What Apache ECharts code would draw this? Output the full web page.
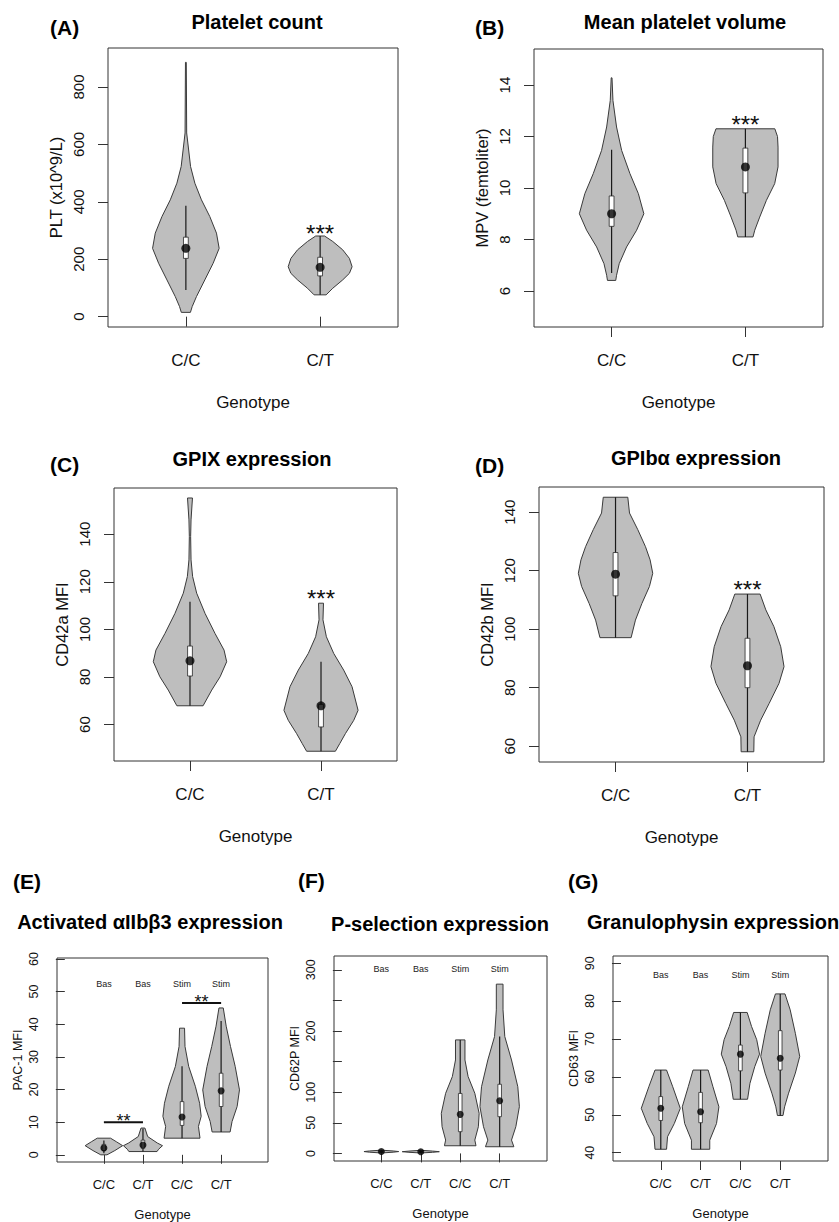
<!DOCTYPE html>
<html>
<head>
<meta charset="utf-8">
<script src="https://cdn.jsdelivr.net/npm/echarts@6/dist/echarts.min.js"></script>
<style>
html,body{margin:0;padding:0;background:#fff;}
#chart{width:839px;height:1222px;}
</style>
</head>
<body>
<div id="chart"></div>
<script>
// ---------------- DATA ----------------
const genotypes2 = ['C/C', 'C/T'];
const genotypes4 = ['C/C', 'C/T', 'C/C', 'C/T'];
const conditions4 = ['Bas', 'Bas', 'Stim', 'Stim'];

// outlines: [value, half-width in category units], top to bottom
// stats: [lower whisker, Q1, median, Q3, upper whisker]

// (A) Platelet count
const A_yTicks = [0, 200, 400, 600, 800];
const A_CC_outline = [[886,0.003],[640,0.006],[523,0.035],[465,0.067],[407,0.116],[349,0.178],[291,0.228],[238,0.248],[186,0.203],[128,0.141],[70,0.079],[35,0.047],[15,0.034]];
const A_CC_stats = [93, 203, 238, 277, 386];
const A_CT_outline = [[281,0.033],[262,0.094],[233,0.168],[203,0.218],[174,0.238],[151,0.218],[128,0.168],[99,0.094],[76,0.045]];
const A_CT_stats = [76, 142, 172, 207, 281];
const A_signif = [[2, 310, '***']];

// (B) Mean platelet volume
const B_yTicks = [6, 8, 10, 12, 14];
const B_CC_outline = [[14.28,0.003],[13.4,0.01],[12.37,0.037],[11.46,0.075],[10.56,0.137],[9.78,0.2],[9.0,0.241],[8.36,0.187],[7.71,0.112],[7.06,0.057],[6.61,0.037],[6.41,0.031]];
const B_CC_stats = [6.70, 8.51, 9.0, 9.69, 11.49];
const B_CT_outline = [[12.3,0.22],[12.0,0.24],[11.59,0.244],[10.82,0.244],[10.17,0.219],[9.52,0.157],[8.87,0.107],[8.36,0.07],[8.1,0.057]];
const B_CT_stats = [8.10, 9.81, 10.82, 11.55, 12.30];
const B_signif = [[2, 12.69, '***']];

// (C) GPIX expression
const C_yTicks = [60, 80, 100, 120, 140];
const C_CC_outline = [[155.2,0.019],[146,0.008],[139,0.005],[129.2,0.008],[122.2,0.02],[115.2,0.051],[106.7,0.115],[98.3,0.191],[91.3,0.26],[86.4,0.28],[80.1,0.23],[74.5,0.166],[67.9,0.1]];
const C_CC_stats = [67.9, 80.4, 86.8, 93, 111.6];
const C_CT_outline = [[111,0.019],[104,0.015],[96.9,0.041],[89.9,0.097],[82.9,0.173],[75.9,0.237],[66,0.283],[61.8,0.25],[56.2,0.186],[52,0.143],[48.8,0.11]];
const C_CT_stats = [48.8, 59, 67.9, 68.5, 86.4];
const C_signif = [[2, 115.2, '***']];

// (D) GPIbα expression
const D_yTicks = [60, 80, 100, 120, 140];
const D_CC_outline = [[145.1,0.093],[139.7,0.106],[134,0.169],[128.2,0.227],[123.7,0.262],[119.1,0.282],[114.6,0.257],[108.8,0.2],[103.1,0.151],[97.1,0.118]];
const D_CC_stats = [97.1, 111.4, 118.8, 126.2, 145.1];
const D_CT_outline = [[112,0.096],[106.6,0.139],[100.9,0.2],[94,0.252],[87.2,0.277],[81.5,0.239],[74.6,0.164],[68.9,0.1],[63.2,0.05],[58.1,0.048]];
const D_CT_stats = [58.1, 80, 87.5, 96.9, 112];
const D_signif = [[2, 115.3, '***']];

// (E) Activated αIIbβ3 expression
const E_yTicks = [0, 10, 20, 30, 40, 50, 60];
const E_outlines = [
  [[5.1,0.17],[4.0,0.32],[2.8,0.48],[1.3,0.28],[0,0.08]],
  [[8.2,0.05],[5.6,0.12],[3.6,0.37],[2.8,0.5],[1.7,0.4],[1.0,0.36]],
  [[38.8,0.064],[33.2,0.076],[27.1,0.17],[21,0.34],[15.8,0.45],[11.8,0.49],[8.7,0.42],[5.1,0.46]],
  [[45,0.055],[39.4,0.13],[33.2,0.24],[27.1,0.36],[19.9,0.47],[14.8,0.41],[10.2,0.28],[7.0,0.23]]
];
const E_stats = [[0.5,1.3,2.1,3.2,4.4],[1.0,2.0,3.0,4.5,8.0],[5.1,9.0,11.6,16.3,27.1],[7.0,14.8,19.6,25.0,41.0]];
const E_condLabelY = 52.4;
const E_bars = [[1, 2, 10.0, '**'], [3, 4, 46.5, '**']];

// (F) P-selection expression
const F_yTicks = [0, 50, 100, 150, 200, 250, 300];
const F_yLabels = [0, 50, 100, 200, 300];
const F_outlines = [
  [[5.2,0.02],[4,0.3],[3,0.44],[2,0.3],[0.8,0.02]],
  [[5.0,0.02],[3.8,0.3],[2.8,0.47],[1.8,0.3],[0.8,0.02]],
  [[185.5,0.12],[152.7,0.12],[125.5,0.2],[98.2,0.37],[65.5,0.48],[43.6,0.46],[21.8,0.37],[12.5,0.4]],
  [[276.6,0.085],[234.6,0.085],[191,0.13],[152.7,0.3],[109,0.46],[76.4,0.5],[43.6,0.41],[21.8,0.3],[10.9,0.36]]
];
const F_stats = [[1.5,2.5,3,3.5,4.5],[1.5,2.3,2.7,3.2,4.0],[12.5,35.5,63.8,98,185.5],[10.9,60,86.2,113,191]];
const F_condLabelY = 301.5;

// (G) Granulophysin expression
const G_yTicks = [40, 50, 60, 70, 80, 90];
const G_outlines = [
  [[61.8,0.145],[57.4,0.3],[51.7,0.49],[47.7,0.34],[44.2,0.17],[40.9,0.145]],
  [[61.8,0.19],[57.4,0.31],[52.1,0.46],[47.7,0.4],[43.3,0.23],[40.9,0.23]],
  [[77,0.17],[73.3,0.28],[69.8,0.41],[66,0.48],[62.7,0.36],[58.3,0.24],[54.1,0.18]],
  [[81.9,0.12],[77.7,0.25],[71.5,0.38],[65.4,0.49],[61,0.38],[55.7,0.21],[52.1,0.11],[49.8,0.07]]
];
const G_stats = [[40.9,48.5,51.7,54.8,61.8],[40.9,47.9,50.8,55.9,61.8],[54.1,61.6,66,68.4,77],[49.8,61.8,64.9,72.2,81.9]];
const G_condLabelY = 86.9;

// ---------------- LAYOUT / STYLE ----------------
const FONT = '"Liberation Sans", Arial, Helvetica, sans-serif';
const INK = '#111';
const LINE = '#333';

const big = {tick: 15, cat: 17, name: 16.5, tickLen: 10, labMargin: 22, catMargin: 25, yNameGap: 44, xNameGap: 67, dot: 9, boxHalf: 2.4, stars: 24};
const small = {tick: 12.5, cat: 13, name: 12.5, tickLen: 9, labMargin: 17, catMargin: 16, yNameGap: 33, xNameGap: 46, dot: 7, boxHalf: 1.8, stars: 18};

function v2(o1, s1, o2, s2) { return [{pos:1, outline:o1, stats:s1}, {pos:2, outline:o2, stats:s2}]; }
function v4(outs, sts) { return outs.map((o, i) => ({pos: i + 1, outline: o, stats: sts[i]})); }

const panels = [
  {grid:{left:108, top:48, width:290, height:279}, x:[0.42,2.58], y:[-36,936], ticks:A_yTicks, labels:A_yTicks, cats:genotypes2, yName:'PLT (x10^9/L)', violins:v2(A_CC_outline,A_CC_stats,A_CT_outline,A_CT_stats), signif:A_signif, st:big},
  {grid:{left:534, top:49, width:289, height:278}, x:[0.42,2.58], y:[4.6,15.4], ticks:B_yTicks, labels:B_yTicks, cats:genotypes2, yName:'MPV (femtoliter)', violins:v2(B_CC_outline,B_CC_stats,B_CT_outline,B_CT_stats), signif:B_signif, st:big},
  {grid:{left:114, top:488, width:283, height:273}, x:[0.42,2.58], y:[44.7,159.4], ticks:C_yTicks, labels:C_yTicks, cats:genotypes2, yName:'CD42a MFI', violins:v2(C_CC_outline,C_CC_stats,C_CT_outline,C_CT_stats), signif:C_signif, st:big},
  {grid:{left:539, top:487, width:285, height:275}, x:[0.42,2.58], y:[54.6,148.6], ticks:D_yTicks, labels:D_yTicks, cats:genotypes2, yName:'CD42b MFI', violins:v2(D_CC_outline,D_CC_stats,D_CT_outline,D_CT_stats), signif:D_signif, st:big},
  {grid:{left:57, top:958, width:211, height:204}, x:[-0.2,5.2], y:[-2.2,60.3], ticks:E_yTicks, labels:E_yTicks, cats:genotypes4, yName:'PAC-1 MFI', violins:v4(E_outlines,E_stats), cond:conditions4, condY:E_condLabelY, bars:E_bars, st:small},
  {grid:{left:334, top:956, width:213, height:205}, x:[-0.2,5.2], y:[-12.4,322.6], ticks:F_yTicks, labels:F_yLabels, cats:genotypes4, yName:'CD62P MFI', violins:v4(F_outlines,F_stats), cond:conditions4, condY:F_condLabelY, st:small},
  {grid:{left:613, top:956, width:215, height:205}, x:[-0.2,5.2], y:[37.8,91.9], ticks:G_yTicks, labels:G_yTicks, cats:genotypes4, yName:'CD63 MFI', violins:v4(G_outlines,G_stats), cond:conditions4, condY:G_condLabelY, st:small}
];

const titles = [
  {text:'(A)', x:50, y:27, align:'left', size:21},
  {text:'Platelet count', x:257, y:22, align:'center', size:20},
  {text:'(B)', x:475, y:27, align:'left', size:21},
  {text:'Mean platelet volume', x:685, y:22, align:'center', size:20},
  {text:'(C)', x:50, y:464, align:'left', size:21},
  {text:'GPIX expression', x:252, y:459, align:'center', size:20},
  {text:'(D)', x:475, y:465, align:'left', size:21},
  {text:'GPIbα expression', x:696, y:458, align:'center', size:20},
  {text:'(E)', x:13, y:881, align:'left', size:21},
  {text:'Activated αIIbβ3 expression', x:150, y:922, align:'center', size:20},
  {text:'(F)', x:298, y:880, align:'left', size:21},
  {text:'P-selection expression', x:440, y:924, align:'center', size:20},
  {text:'(G)', x:568, y:881, align:'left', size:21},
  {text:'Granulophysin expression', x:587, y:922, align:'left', size:20}
];

// ---------------- BUILD OPTION ----------------
const option = {animation:false, backgroundColor:'#fff', grid:[], xAxis:[], yAxis:[], series:[], graphic:[]};

panels.forEach((p, i) => {
  const st = p.st;
  option.grid.push(Object.assign({show:true, borderColor:LINE, borderWidth:1, backgroundColor:'transparent', containLabel:false}, p.grid));
  const catPos = p.cats.map((c, k) => k + 1);
  option.xAxis.push({
    gridIndex:i, type:'value', min:p.x[0], max:p.x[1],
    splitLine:{show:false}, axisLine:{show:false},
    axisTick:{show:true, length:st.tickLen, customValues:catPos, lineStyle:{color:LINE, width:1}},
    axisLabel:{show:true, customValues:catPos, formatter:(v) => p.cats[Math.round(v) - 1], margin:st.catMargin, fontSize:st.cat, fontFamily:FONT, color:INK},
    name:'Genotype', nameLocation:'middle', nameGap:st.xNameGap,
    nameTextStyle:{fontSize:st.cat, fontFamily:FONT, color:INK}
  });
  option.yAxis.push({
    gridIndex:i, type:'value', min:p.y[0], max:p.y[1],
    splitLine:{show:false}, axisLine:{show:false},
    axisTick:{show:true, length:st.tickLen, customValues:p.ticks, lineStyle:{color:LINE, width:1}},
    axisLabel:{show:true, customValues:p.labels, rotate:90, margin:st.labMargin, fontSize:st.tick, fontFamily:FONT, color:INK},
    name:p.yName, nameLocation:'middle', nameRotate:90, nameGap:st.yNameGap,
    nameTextStyle:{fontSize:st.name, fontFamily:FONT, color:INK}
  });

  const violins = p.violins;
  // violins with whiskers and boxes
  option.series.push({
    type:'custom', xAxisIndex:i, yAxisIndex:i, clip:false, z:2,
    data: violins.map(v => [v.pos, v.stats[2]]),
    encode:{x:0, y:1},
    renderItem:(params, api) => {
      const v = violins[params.dataIndex];
      const pos = v.pos;
      const right = v.outline.map(([y, hw]) => api.coord([pos + hw, y]));
      const left = v.outline.slice().reverse().map(([y, hw]) => api.coord([pos - hw, y]));
      const [lo, q1, med, q3, hi] = v.stats;
      const cLo = api.coord([pos, lo]), cHi = api.coord([pos, hi]);
      const cQ1 = api.coord([pos, q1]), cQ3 = api.coord([pos, q3]);
      return {type:'group', children:[
        {type:'polygon', shape:{points:right.concat(left)}, style:{fill:'#bebebe', stroke:'#3a3a3a', lineWidth:1}},
        {type:'line', shape:{x1:cLo[0], y1:cLo[1], x2:cHi[0], y2:cHi[1]}, style:{stroke:'#1a1a1a', lineWidth:1.2}},
        {type:'rect', shape:{x:cQ3[0] - st.boxHalf, y:cQ3[1], width:2 * st.boxHalf, height:cQ1[1] - cQ3[1]}, style:{fill:'#ffffff', stroke:'#2a2a2a', lineWidth:0.8}}
      ]};
    }
  });
  // medians
  option.series.push({
    type:'scatter', xAxisIndex:i, yAxisIndex:i, z:5, symbol:'circle', symbolSize:st.dot,
    itemStyle:{color:'#000'}, silent:true,
    data: violins.map(v => [v.pos, v.stats[2]])
  });
  // significance stars
  if (p.signif) {
    const sig = p.signif;
    option.series.push({
      type:'custom', xAxisIndex:i, yAxisIndex:i, clip:false, z:6,
      data: sig.map(s => [s[0], s[1]]), encode:{x:0, y:1},
      renderItem:(params, api) => {
        const s = sig[params.dataIndex];
        const c = api.coord([s[0], s[1]]);
        return {type:'text', x:c[0], y:c[1] + 0.23 * st.stars, style:{text:s[2], fill:INK, fontSize:st.stars, fontFamily:FONT, align:'center', verticalAlign:'middle', textAlign:'center', textVerticalAlign:'middle'}};
      }
    });
  }
  // comparison bars
  if (p.bars) {
    const bars = p.bars;
    option.series.push({
      type:'custom', xAxisIndex:i, yAxisIndex:i, clip:false, z:6,
      data: bars.map(b => [(b[0] + b[1]) / 2, b[2]]), encode:{x:0, y:1},
      renderItem:(params, api) => {
        const b = bars[params.dataIndex];
        const a = api.coord([b[0], b[2]]), e = api.coord([b[1], b[2]]);
        return {type:'group', children:[
          {type:'line', shape:{x1:a[0], y1:a[1], x2:e[0], y2:e[1]}, style:{stroke:'#111', lineWidth:2}},
          {type:'text', x:(a[0] + e[0]) / 2, y:a[1] - 5 + 0.23 * st.stars, style:{text:b[3], fill:INK, fontSize:st.stars, fontFamily:FONT, align:'center', verticalAlign:'middle', textAlign:'center', textVerticalAlign:'middle'}}
        ]};
      }
    });
  }
  // condition labels
  if (p.cond) {
    const cond = p.cond, cy = p.condY;
    option.series.push({
      type:'custom', xAxisIndex:i, yAxisIndex:i, clip:false, z:6,
      data: cond.map((c, k) => [k + 1, cy]), encode:{x:0, y:1},
      renderItem:(params, api) => {
        const c = api.coord([params.dataIndex + 1, cy]);
        return {type:'text', x:c[0], y:c[1], style:{text:cond[params.dataIndex], fill:'#222', fontSize:9, fontFamily:FONT, align:'center', verticalAlign:'middle', textAlign:'center', textVerticalAlign:'middle'}};
      }
    });
  }
});

titles.forEach(t => {
  option.graphic.push({
    type:'text', x:t.x, y:t.y, z:10,
    style:{text:t.text, fill:'#000', fontSize:t.size, fontWeight:'bold', fontFamily:FONT, align:t.align, verticalAlign:'middle', textAlign:t.align, textVerticalAlign:'middle'}
  });
});

const chart = echarts.init(document.getElementById('chart'), null, {renderer:'svg', width:839, height:1222});
chart.setOption(option);
</script>
</body>
</html>
